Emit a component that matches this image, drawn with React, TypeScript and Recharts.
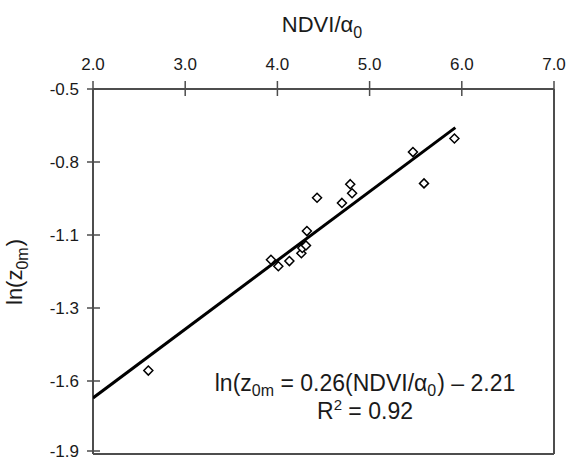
import React from "react";
import { ScatterChart, Scatter, XAxis, YAxis, Customized } from "recharts";

// observed points
const ndvi = [2.6, 3.93, 4.01, 4.13, 4.26, 4.27, 4.31, 4.32, 4.43, 4.7, 4.79, 4.81, 5.47, 5.59, 5.92];
const lnZ0m = [-1.58, -1.155, -1.18, -1.16, -1.13, -1.11, -1.1, -1.045, -0.917, -0.937, -0.865, -0.9, -0.742, -0.862, -0.69];

// regression line end points
const fitX = [2.0, 5.93];
const fitY = [-1.685, -0.648];

const xTicks = [2, 3, 4, 5, 6, 7];
const yTicks = [-0.5, -0.78, -1.06, -1.34, -1.62, -1.9];

const AXIS = "#4d4d4d";
const TEXT = "#1a1a1a";
const FONT = "'Liberation Sans', Arial, sans-serif";

// top axis height / left axis width = where the frame lines sit
const TOP_H = 89;
const LEFT_W = 93;

const points = ndvi.map((x, i) => ({ x, y: lnZ0m[i] }));
const fit = fitX.map((x, i) => ({ x, y: fitY[i] }));

function TopTick({ x, payload }: any) {
  const ay = TOP_H;
  return (
    <g>
      <line x1={x} x2={x} y1={ay - 8} y2={ay + 7} stroke={AXIS} strokeWidth={1.5} />
      <text x={x} y={ay - 19} textAnchor="middle" fontSize={17} fill={TEXT} fontFamily={FONT}>
        {payload.value.toFixed(1)}
      </text>
    </g>
  );
}

function LeftTick({ y, payload }: any) {
  const ax = LEFT_W;
  return (
    <g>
      <line x1={ax - 6} x2={ax + 7} y1={y} y2={y} stroke={AXIS} strokeWidth={1.5} />
      <text x={ax - 14} y={y} dy="0.35em" textAnchor="end" fontSize={17} fill={TEXT} fontFamily={FONT}>
        {payload.value.toFixed(1)}
      </text>
    </g>
  );
}

const Diamond = ({ cx, cy }: any) => (
  <polygon
    points={`${cx},${cy - 4.5} ${cx + 4.5},${cy} ${cx},${cy + 4.5} ${cx - 4.5},${cy}`}
    fill="#fff"
    stroke="#000"
    strokeWidth={1.5}
  />
);

const Texts = () => (
  <g fontFamily={FONT} fill={TEXT}>
    <text x={322} y={32} textAnchor="middle" fontSize={22}>
      NDVI/α<tspan dy={6} fontSize={16}>0</tspan>
    </text>
    <text x={22} y={272} textAnchor="middle" fontSize={22} transform="rotate(-90, 22, 272)">
      ln(z<tspan dy={6} fontSize={16}>0m</tspan>
      <tspan dy={-6} dx={1}>)</tspan>
    </text>
    <text x={365} y={391} textAnchor="middle" fontSize={23}>
      ln(z<tspan dy={5} fontSize={16}>0m</tspan>
      <tspan dy={-5}>{" = 0.26(NDVI/α"}</tspan>
      <tspan dy={5} fontSize={16}>0</tspan>
      <tspan dy={-5} dx={1}>) – 2.21</tspan>
    </text>
    <text x={365} y={419} textAnchor="middle" fontSize={23}>
      R<tspan dy={-9} fontSize={15}>2</tspan>
      <tspan dy={9}>{" = 0.92"}</tspan>
    </text>
  </g>
);

export default function App() {
  return (
    <div style={{ position: "absolute", left: 0, top: 0, background: "#fff" }}>
      <ScatterChart width={571} height={460} margin={{ top: 0, right: 0, bottom: 0, left: 0 }}>
        <XAxis
          xAxisId="t"
          type="number"
          dataKey="x"
          orientation="top"
          domain={[2, 7]}
          ticks={xTicks}
          height={TOP_H}
          tickLine={false}
          tick={<TopTick />}
          axisLine={{ stroke: AXIS, strokeWidth: 2 }}
          allowDataOverflow
        />
        <XAxis
          xAxisId="b"
          type="number"
          orientation="bottom"
          domain={[2, 7]}
          height={6}
          tick={false}
          tickLine={false}
          axisLine={{ stroke: AXIS, strokeWidth: 2 }}
        />
        <YAxis
          yAxisId="l"
          type="number"
          dataKey="y"
          domain={[-1.9, -0.5]}
          ticks={yTicks}
          width={LEFT_W}
          tickLine={false}
          tick={<LeftTick />}
          axisLine={{ stroke: AXIS, strokeWidth: 2 }}
          allowDataOverflow
        />
        <YAxis
          yAxisId="r"
          type="number"
          orientation="right"
          domain={[-1.9, -0.5]}
          width={17}
          tick={false}
          tickLine={false}
          axisLine={{ stroke: AXIS, strokeWidth: 2 }}
        />
        <Scatter
          xAxisId="t"
          yAxisId="l"
          data={fit}
          line={{ stroke: "#000", strokeWidth: 3 }}
          shape={() => <g />}
          isAnimationActive={false}
        />
        <Scatter
          xAxisId="t"
          yAxisId="l"
          data={points}
          shape={<Diamond />}
          isAnimationActive={false}
        />
        <Customized component={<Texts />} />
      </ScatterChart>
    </div>
  );
}
